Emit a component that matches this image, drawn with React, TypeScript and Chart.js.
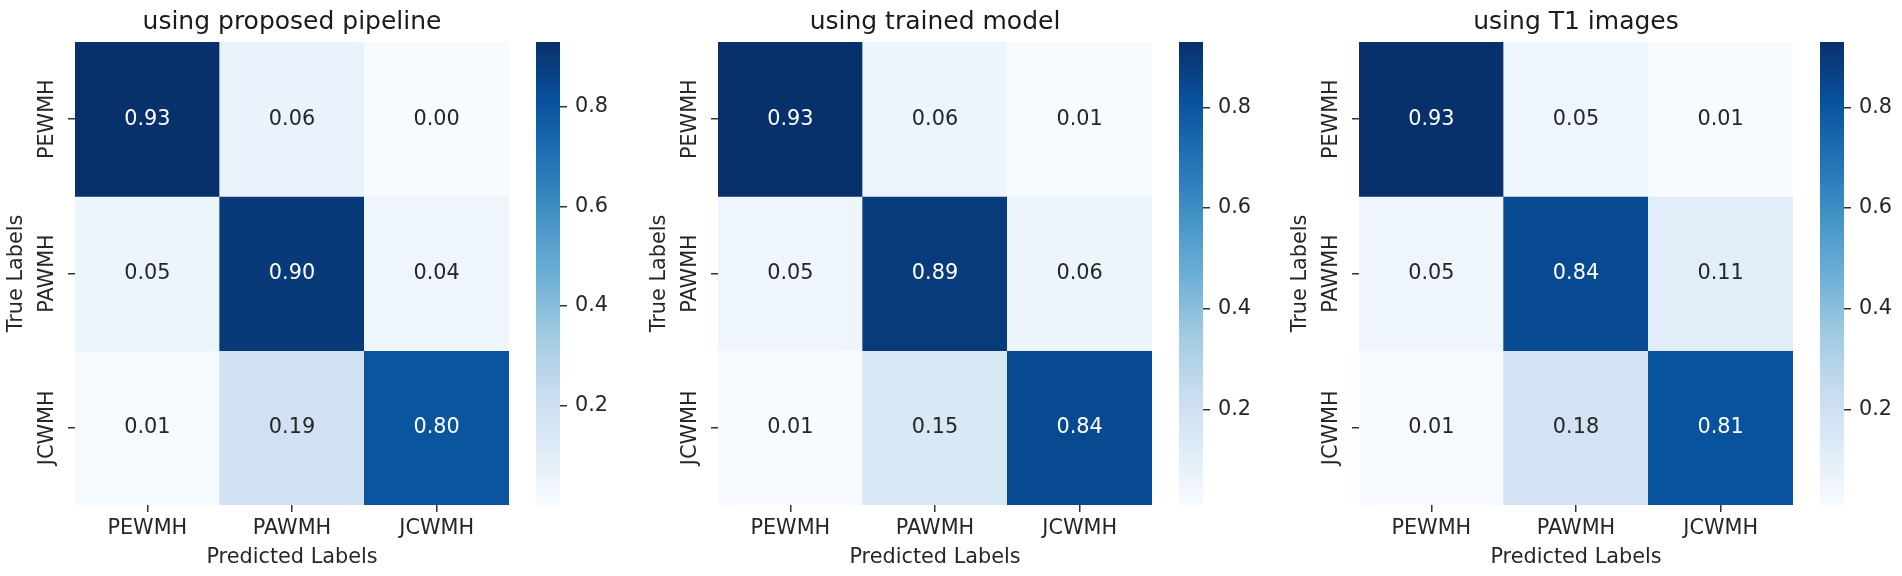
import React, { useEffect, useRef } from "react";
import { Chart, registerables } from "chart.js";

Chart.register(...registerables);
Chart.defaults.font.family = '"DejaVu Sans", sans-serif';

// ---------------- data ----------------
const predictedLabels = ["PEWMH", "PAWMH", "JCWMH"];
const trueLabels = ["PEWMH", "PAWMH", "JCWMH"];
const panelTitles = ["using proposed pipeline", "using trained model", "using T1 images"];
const proposedPipeline = [
  [0.93, 0.06, 0.0],
  [0.05, 0.9, 0.04],
  [0.01, 0.19, 0.8],
];
const trainedModel = [
  [0.93, 0.06, 0.01],
  [0.05, 0.89, 0.06],
  [0.01, 0.15, 0.84],
];
const t1Images = [
  [0.93, 0.05, 0.01],
  [0.05, 0.84, 0.11],
  [0.01, 0.18, 0.81],
];
const colorbarTicks = [0.2, 0.4, 0.6, 0.8];
const xAxisTitle = "Predicted Labels";
const yAxisTitle = "True Labels";

// ---------------- style / layout ----------------
const BLUES = ["#f7fbff", "#deebf7", "#c6dbef", "#9ecae1", "#6baed6", "#4292c6", "#2171b5", "#08519c", "#08306b"];
const W = 1902;
const H = 576;
const AREA_TOP = 42;
const AREA_BOTTOM = 505;
const HM_LEFTS = [75, 718, 1359];
const HM_W = 434;
const YAXIS_W = 75;
const CB_GAP = 27;
const CB_W = 24;
const CB_AXIS_W = 60;
const FS = 20.8;
const TITLE_FS = 25;
const TEXT = "#262626";
const TICK_COLOR = "#333333";

function hexToRgb(h: string): number[] {
  const n = parseInt(h.slice(1), 16);
  return [(n >> 16) & 255, (n >> 8) & 255, n & 255];
}

function blues(t: number): number[] {
  const tt = Math.max(0, Math.min(1, t));
  const pos = tt * (BLUES.length - 1);
  const i = Math.min(Math.floor(pos), BLUES.length - 2);
  const f = pos - i;
  const a = hexToRgb(BLUES[i]);
  const b = hexToRgb(BLUES[i + 1]);
  return a.map((v, k) => v + (b[k] - v) * f);
}

function rgbStr(c: number[]): string {
  return `rgb(${Math.round(c[0])},${Math.round(c[1])},${Math.round(c[2])})`;
}

function luminance(c: number[]): number {
  const lin = c.map((v) => {
    const s = v / 255;
    return s <= 0.03928 ? s / 12.92 : Math.pow((s + 0.055) / 1.055, 2.4);
  });
  return 0.2126 * lin[0] + 0.7152 * lin[1] + 0.0722 * lin[2];
}

function Heatmap({ matrix, title, hmLeft }: { matrix: number[][]; title: string; hmLeft: number }) {
  const ref = useRef<HTMLCanvasElement>(null);
  const width = YAXIS_W + HM_W + 8;
  useEffect(() => {
    const flat = matrix.flat();
    const vmin = Math.min(...flat);
    const vmax = Math.max(...flat);
    const norm = (v: number) => (v - vmin) / (vmax - vmin);
    const mctx = document.createElement("canvas").getContext("2d")!;
    mctx.font = `${FS}px "DejaVu Sans"`;
    const widest = Math.max(...trueLabels.map((t) => mctx.measureText(t).width));
    const tickLen = 7;

    const annotPlugin = {
      id: "annot",
      afterDatasetsDraw(chart: any) {
        const c = chart.ctx;
        c.save();
        c.font = `${FS}px "DejaVu Sans"`;
        c.textAlign = "center";
        c.textBaseline = "middle";
        chart.data.datasets.forEach((_ds: any, r: number) => {
          const meta = chart.getDatasetMeta(r);
          meta.data.forEach((el: any, j: number) => {
            const v = matrix[r][j];
            const col = blues(norm(v));
            c.fillStyle = luminance(col) > 0.408 ? TEXT : "#ffffff";
            c.fillText(v.toFixed(2), el.x, (el.y + el.base) / 2);
          });
        });
        c.restore();
      },
    };

    const chart = new Chart(ref.current!, {
      type: "bar",
      data: {
        labels: predictedLabels,
        datasets: trueLabels.map((name, r) => ({
          label: name,
          data: predictedLabels.map(() => 1),
          backgroundColor: matrix[r].map((v) => rgbStr(blues(norm(v)))),
          borderWidth: 0,
          categoryPercentage: 1,
          barPercentage: 1,
          stack: "rows",
        })),
      },
      options: {
        responsive: false,
        animation: false,
        events: [],
        layout: { padding: { left: 0, right: 8, top: 0, bottom: 0 } },
        plugins: {
          legend: { display: false },
          tooltip: { enabled: false },
          title: {
            display: true,
            text: title,
            fullSize: false,
            color: "#1a1a1a",
            font: { size: TITLE_FS, weight: "normal" },
            padding: { top: 7, bottom: 5 },
          },
        },
        scales: {
          x: {
            type: "category",
            stacked: true,
            offset: true,
            grid: {
              display: true,
              drawOnChartArea: false,
              drawTicks: true,
              tickLength: tickLen,
              offset: false,
              color: TICK_COLOR,
              lineWidth: 1.5,
            },
            border: { display: false },
            ticks: { color: TEXT, font: { size: FS }, padding: 4.5, maxRotation: 0, minRotation: 0, autoSkip: false },
            title: { display: true, text: xAxisTitle, color: TEXT, font: { size: FS }, padding: { top: 0, bottom: 5.5 } },
            afterFit: (s: any) => {
              s.height = H - AREA_BOTTOM;
            },
          },
          y: {
            type: "linear",
            stacked: true,
            reverse: true,
            min: 0,
            max: trueLabels.length,
            afterBuildTicks: (s: any) => {
              s.ticks = trueLabels.map((_t, i) => ({ value: i + 0.5 }));
            },
            grid: {
              display: true,
              drawOnChartArea: false,
              drawTicks: true,
              tickLength: tickLen,
              offset: false,
              color: TICK_COLOR,
              lineWidth: 1.5,
            },
            border: { display: false },
            ticks: {
              color: TEXT,
              font: { size: FS },
              minRotation: 90,
              maxRotation: 90,
              crossAlign: "center",
              autoSkip: false,
              padding: 27 - tickLen - widest / 2,
              callback: (_v: any, i: number) => trueLabels[i],
            },
            title: { display: true, text: yAxisTitle, color: TEXT, font: { size: FS }, padding: { top: 4.5, bottom: 0 } },
            afterFit: (s: any) => {
              s.width = YAXIS_W;
            },
          },
        },
      } as any,
      plugins: [annotPlugin],
    });
    return () => chart.destroy();
  }, [matrix, title]);
  return (
    <canvas
      ref={ref}
      width={width}
      height={H}
      style={{ position: "absolute", left: hmLeft - YAXIS_W, top: 0, width, height: H }}
    />
  );
}

function Colorbar({ matrix, hmLeft }: { matrix: number[][]; hmLeft: number }) {
  const ref = useRef<HTMLCanvasElement>(null);
  const width = CB_W + CB_AXIS_W;
  const left = hmLeft + HM_W + CB_GAP;
  useEffect(() => {
    const flat = matrix.flat();
    const vmin = Math.min(...flat);
    const vmax = Math.max(...flat);
    const chart = new Chart(ref.current!, {
      type: "bar",
      data: {
        labels: [""],
        datasets: [
          {
            data: [[vmin, vmax]],
            backgroundColor: (ctx: any) => {
              const a = ctx.chart.chartArea;
              if (!a) return BLUES[0];
              const g = ctx.chart.ctx.createLinearGradient(0, a.bottom, 0, a.top);
              BLUES.forEach((c, i) => g.addColorStop(i / (BLUES.length - 1), c));
              return g;
            },
            borderWidth: 0,
            categoryPercentage: 1,
            barPercentage: 1,
          },
        ],
      },
      options: {
        responsive: false,
        animation: false,
        events: [],
        layout: { padding: { left: 0, right: 0, top: AREA_TOP, bottom: H - AREA_BOTTOM } },
        plugins: { legend: { display: false }, tooltip: { enabled: false }, title: { display: false } },
        scales: {
          x: { display: false },
          y: {
            position: "right",
            min: vmin,
            max: vmax,
            afterBuildTicks: (s: any) => {
              s.ticks = colorbarTicks.map((v) => ({ value: v }));
            },
            grid: {
              display: true,
              drawOnChartArea: false,
              drawTicks: true,
              tickLength: 7,
              color: TICK_COLOR,
              lineWidth: 1.5,
            },
            border: { display: false },
            ticks: {
              color: TEXT,
              font: { size: FS },
              padding: 8,
              autoSkip: false,
              callback: (v: any) => Number(v).toFixed(1),
            },
            afterFit: (s: any) => {
              s.width = CB_AXIS_W;
            },
          },
        },
      } as any,
    });
    return () => chart.destroy();
  }, [matrix]);
  return (
    <canvas
      ref={ref}
      width={width}
      height={H}
      style={{ position: "absolute", left, top: 0, width, height: H }}
    />
  );
}

const matrices = [proposedPipeline, trainedModel, t1Images];

export default function App() {
  useEffect(() => {
    document.body.style.margin = "0";
    document.body.style.background = "#ffffff";
  }, []);
  return (
    <div style={{ position: "relative", width: W, height: H, background: "#ffffff", overflow: "hidden" }}>
      {matrices.map((m, i) => (
        <React.Fragment key={i}>
          <Heatmap matrix={m} title={panelTitles[i]} hmLeft={HM_LEFTS[i]} />
          <Colorbar matrix={m} hmLeft={HM_LEFTS[i]} />
        </React.Fragment>
      ))}
    </div>
  );
}
